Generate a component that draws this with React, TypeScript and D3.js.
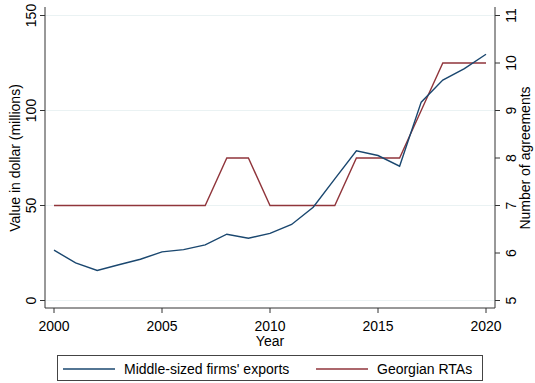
import React from "react";
import * as d3 from "d3";

const years = d3.range(2000, 2021);
const exportsValues = [26.5, 19.8, 15.8, 18.8, 21.7, 25.6, 26.8, 29.3, 34.9, 32.8, 35.3, 40, 49.1, 64, 78.8, 76.3, 70.7, 104.4, 116, 122, 129.6];
const rtaValues = [7, 7, 7, 7, 7, 7, 7, 7, 8, 8, 7, 7, 7, 7, 8, 8, 8, 9, 10, 10, 10];
const xTicks = [2000, 2005, 2010, 2015, 2020];
const leftTicks = [0, 50, 100, 150];
const rightTicks = [5, 6, 7, 8, 9, 10, 11];
const seriesNames = ["Middle-sized firms' exports", "Georgian RTAs"];

const BLUE = "#1a476f";
const RED = "#90353b";
const AXIS = "#333";
const FONT = "'Liberation Sans', Arial, sans-serif";

export default function App() {
  const x = d3.scaleLinear().domain([2000, 2020]).range([54, 486]);
  const yL = d3.scaleLinear().domain([0, 150]).range([300.5, 15.5]);
  const yR = d3.scaleLinear().domain([5, 11]).range([300.5, 15.5]);
  const left = 45, right = 495, bottom = 308, top = 7;

  const lineL = d3.line<number>().x((_, i) => x(years[i])).y((d) => yL(d));
  const lineR = d3.line<number>().x((_, i) => x(years[i])).y((d) => yR(d));

  return (
    <svg width={535} height={383} style={{ position: "absolute", left: 0, top: 0, background: "#fff" }} fontFamily={FONT}>
      <rect x={0} y={0} width={535} height={383} fill="#fff" />
      {leftTicks.map((t) => (
        <line key={"g" + t} x1={left} x2={right} y1={yL(t)} y2={yL(t)} stroke="#eaf2f3" strokeWidth={1} />
      ))}
      <line x1={left} x2={left} y1={top} y2={bottom} stroke={AXIS} strokeWidth={1} />
      <line x1={right} x2={right} y1={top} y2={bottom} stroke={AXIS} strokeWidth={1} />
      <line x1={left} x2={right} y1={bottom} y2={bottom} stroke={AXIS} strokeWidth={1} />
      {leftTicks.map((t) => (
        <g key={"l" + t}>
          <line x1={left - 5} x2={left} y1={yL(t)} y2={yL(t)} stroke={AXIS} />
          <text transform={`translate(36,${yL(t)}) rotate(-90)`} textAnchor="middle" fontSize={14} fill="#000">{t}</text>
        </g>
      ))}
      {rightTicks.map((t) => (
        <g key={"r" + t}>
          <line x1={right} x2={right + 5} y1={yR(t)} y2={yR(t)} stroke={AXIS} />
          <text transform={`translate(516,${yR(t)}) rotate(-90)`} textAnchor="middle" fontSize={14} fill="#000">{t}</text>
        </g>
      ))}
      {xTicks.map((t) => (
        <g key={"x" + t}>
          <line x1={x(t)} x2={x(t)} y1={bottom} y2={bottom + 5} stroke={AXIS} />
          <text x={x(t)} y={331} textAnchor="middle" fontSize={14} fill="#000">{t}</text>
        </g>
      ))}
      <text x={270} y={346} textAnchor="middle" fontSize={14} fill="#000">Year</text>
      <text transform={`translate(20,158) rotate(-90)`} textAnchor="middle" fontSize={14} fill="#000">Value in dollar (millions)</text>
      <text transform={`translate(530,158) rotate(-90)`} textAnchor="middle" fontSize={14} fill="#000">Number of agreements</text>
      <path d={lineR(rtaValues) || ""} fill="none" stroke={RED} strokeWidth={1.4} />
      <path d={lineL(exportsValues) || ""} fill="none" stroke={BLUE} strokeWidth={1.4} />
      <rect x={57.5} y={355.5} width={425} height={25} fill="#fff" stroke="#444" strokeWidth={1} />
      <line x1={63} x2={115} y1={369} y2={369} stroke={BLUE} strokeWidth={1.4} />
      <text x={124} y={374} fontSize={14} fill="#000">{seriesNames[0]}</text>
      <line x1={316} x2={368} y1={369} y2={369} stroke={RED} strokeWidth={1.4} />
      <text x={377} y={374} fontSize={14} fill="#000">{seriesNames[1]}</text>
    </svg>
  );
}
